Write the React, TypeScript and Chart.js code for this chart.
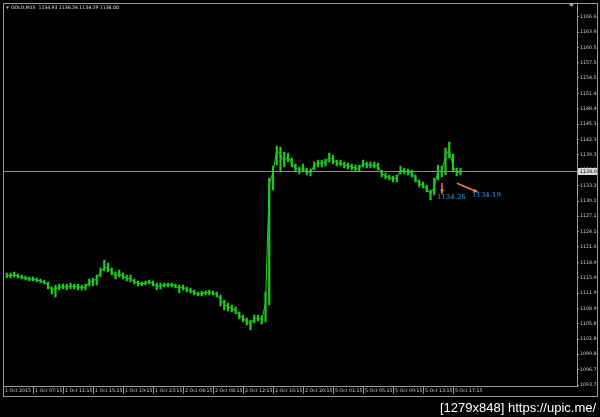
import { useEffect, useRef } from 'react';
import { Chart, registerables } from 'chart.js';
Chart.register(...registerables);

const xTickLabels = ['1 Oct 2015', '1 Oct 07:15', '1 Oct 11:15', '1 Oct 15:15', '1 Oct 19:15', '1 Oct 23:15', '2 Oct 04:15', '2 Oct 08:15', '2 Oct 12:15', '2 Oct 16:15', '2 Oct 20:15', '5 Oct 01:15', '5 Oct 05:15', '5 Oct 09:15', '5 Oct 13:15', '5 Oct 17:15'];
const pointsPerLabel = 8;
const yTickValues = [1166.65, 1163.6, 1160.55, 1157.5, 1154.55, 1151.4, 1148.4, 1145.35, 1142.3, 1139.3, 1136.25, 1133.2, 1130.15, 1127.15, 1124.1, 1121.05, 1118.0, 1115.0, 1111.9, 1108.9, 1105.85, 1102.8, 1099.8, 1096.75, 1093.7];

const highs = [
  1115.90, 1115.90, 1116.09, 1115.70, 1115.50, 1115.30, 1115.10, 1115.10, 1114.91, 1114.71,
  1114.51, 1114.11, 1113.12, 1113.52, 1113.72, 1113.72, 1113.72, 1113.92, 1113.72, 1113.72,
  1113.52, 1113.72, 1114.71, 1114.91, 1115.50, 1116.89, 1118.47, 1117.88, 1116.89, 1116.09,
  1116.49, 1115.90, 1115.50, 1115.50, 1114.71, 1114.31, 1114.11, 1114.31, 1114.51, 1114.31,
  1113.92, 1113.92, 1113.92, 1113.92, 1113.92, 1113.72, 1113.52, 1113.52, 1113.12, 1112.93,
  1112.53, 1112.13, 1112.33, 1112.33, 1112.53, 1112.33, 1112.13, 1111.54, 1110.55, 1109.96,
  1109.56, 1109.16, 1108.17, 1107.58, 1106.99, 1106.59, 1107.58, 1107.58, 1107.38, 1112.13,
  1134.71, 1137.08, 1141.04, 1140.84, 1139.85, 1139.66, 1138.67, 1137.48, 1136.88, 1137.48,
  1136.69, 1136.49, 1137.87, 1138.27, 1138.27, 1138.47, 1139.66, 1139.26, 1138.27, 1138.27,
  1137.87, 1137.68, 1137.48, 1137.28, 1137.28, 1138.27, 1137.87, 1137.87, 1137.87, 1137.68,
  1136.29, 1135.70, 1135.30, 1135.10, 1135.30, 1137.08, 1136.69, 1136.49, 1136.29, 1135.30,
  1134.31, 1133.91, 1133.32, 1132.33, 1134.71, 1137.28, 1137.08, 1140.65, 1141.83, 1139.46,
  1136.69, 1136.69,
];
const lows = [
  1114.91, 1114.91, 1115.10, 1114.91, 1114.71, 1114.51, 1114.31, 1114.31, 1114.11, 1113.92,
  1113.72, 1112.73, 1111.74, 1111.14, 1112.53, 1112.73, 1112.53, 1112.73, 1112.73, 1112.53,
  1112.53, 1112.53, 1113.32, 1113.32, 1113.52, 1115.10, 1116.29, 1116.09, 1115.50, 1114.71,
  1115.10, 1114.71, 1114.31, 1114.11, 1113.72, 1113.32, 1113.32, 1113.52, 1113.72, 1113.32,
  1112.53, 1112.73, 1113.12, 1113.12, 1113.12, 1112.93, 1111.94, 1112.53, 1112.13, 1111.94,
  1111.54, 1111.34, 1111.34, 1111.54, 1111.54, 1111.54, 1111.14, 1109.36, 1108.57, 1108.37,
  1108.17, 1107.78, 1106.79, 1106.19, 1105.60, 1104.61, 1106.00, 1106.39, 1105.80, 1106.19,
  1109.56, 1132.33, 1137.28, 1135.89, 1136.88, 1137.87, 1136.88, 1135.89, 1135.50, 1135.89,
  1135.30, 1135.10, 1136.29, 1136.88, 1136.88, 1137.08, 1137.87, 1137.48, 1137.08, 1137.08,
  1136.69, 1136.49, 1136.29, 1136.09, 1136.09, 1136.88, 1136.69, 1136.69, 1136.69, 1136.29,
  1134.90, 1134.51, 1134.31, 1133.91, 1133.91, 1135.50, 1135.50, 1135.30, 1134.90, 1133.91,
  1132.92, 1132.73, 1131.93, 1130.35, 1131.34, 1134.31, 1134.90, 1135.30, 1138.67, 1135.89,
  1135.10, 1135.30,
];
const closes = [
  1115.40, 1115.36, 1115.50, 1115.30, 1115.00, 1114.85, 1114.71, 1114.65, 1114.51, 1114.31,
  1114.11, 1113.52, 1112.53, 1112.83, 1113.06, 1113.18, 1113.12, 1113.26, 1113.26, 1113.12,
  1112.93, 1113.12, 1114.02, 1114.31, 1114.71, 1116.09, 1116.99, 1116.83, 1116.19, 1115.30,
  1115.70, 1115.20, 1114.91, 1114.71, 1114.21, 1113.86, 1113.72, 1113.92, 1114.11, 1113.86,
  1113.22, 1113.32, 1113.52, 1113.52, 1113.62, 1113.26, 1112.93, 1113.06, 1112.63, 1112.37,
  1112.07, 1111.68, 1111.84, 1111.98, 1112.04, 1111.88, 1111.64, 1110.55, 1109.66, 1109.26,
  1108.87, 1108.43, 1107.52, 1106.93, 1106.29, 1105.80, 1106.85, 1107.03, 1106.59, 1109.96,
  1133.52, 1135.89, 1140.25, 1139.26, 1138.07, 1138.86, 1137.78, 1136.69, 1136.19, 1136.69,
  1135.99, 1135.80, 1137.28, 1137.62, 1137.62, 1137.82, 1138.77, 1138.27, 1137.68, 1137.62,
  1137.32, 1137.08, 1136.88, 1136.63, 1136.63, 1137.58, 1137.28, 1137.28, 1137.18, 1137.08,
  1135.60, 1135.10, 1134.81, 1134.55, 1134.71, 1136.19, 1136.09, 1135.89, 1135.64, 1134.51,
  1133.58, 1133.22, 1132.53, 1131.54, 1132.92, 1136.29, 1135.80, 1139.26, 1140.25, 1137.08,
  1135.70, 1136.00,
];

const currentPrice = 1136.0;
const headerText = 'GOLD,M15  1134.93 1136.24 1134.29 1136.00';
const annotationLabels = ['1134.26', '1134.19'];
const arrowFrom = [[117.07, 1133.72], [121.07, 1133.66]];
const arrowTo = [[117.07, 1131.74], [126.4, 1131.99]];
const labelAt = [[115.7, 1130.81], [125.07, 1131.34]];
const watermark = '[1279x848] https://upic.me/';

const GREEN = '#1ecc1e';
const GRAY = '#9a9a9a';

const decor = {
  id: 'decor',
  beforeDraw(chart: any) {
    const { ctx, width, height } = chart;
    ctx.save();
    ctx.fillStyle = '#000';
    ctx.fillRect(0, 0, width, height);
    ctx.restore();
  },
  afterDraw(chart: any) {
    const { ctx, chartArea: a, scales } = chart;
    const x = scales.x;
    const y = scales.y;
    ctx.save();
    const py = Math.round(y.getPixelForValue(currentPrice)) + 0.5;
    ctx.strokeStyle = '#8c8c8c';
    ctx.lineWidth = 1;
    ctx.beginPath();
    ctx.moveTo(a.left, py);
    ctx.lineTo(a.right, py);
    ctx.stroke();
    ctx.fillStyle = '#d8d8d8';
    ctx.fillRect(a.right + 1, py - 3.5, 20, 7);
    ctx.fillStyle = '#000';
    ctx.font = '4.8px "DejaVu Sans"';
    ctx.textBaseline = 'middle';
    ctx.textAlign = 'left';
    ctx.fillText(currentPrice.toFixed(2), a.right + 3, py);

    ctx.strokeStyle = GRAY;
    ctx.strokeRect(3.5, 3.5, 594, 393);

    ctx.fillStyle = '#bbbbbb';
    ctx.beginPath();
    ctx.moveTo(6, 6.5);
    ctx.lineTo(9, 6.5);
    ctx.lineTo(7.5, 9);
    ctx.closePath();
    ctx.fill();
    ctx.fillStyle = '#e8e8e8';
    ctx.font = '4.6px "DejaVu Sans"';
    ctx.fillText(headerText, 11, 8);

    ctx.fillStyle = '#aaaaaa';
    ctx.beginPath();
    ctx.moveTo(569, 4);
    ctx.lineTo(574, 4);
    ctx.lineTo(571.5, 7);
    ctx.closePath();
    ctx.fill();

    ctx.strokeStyle = '#f07a4c';
    ctx.fillStyle = '#f07a4c';
    ctx.lineWidth = 1.5;
    for (let i = 0; i < arrowFrom.length; i++) {
      const x1 = x.getPixelForValue(arrowFrom[i][0]);
      const y1 = y.getPixelForValue(arrowFrom[i][1]);
      const x2 = x.getPixelForValue(arrowTo[i][0]);
      const y2 = y.getPixelForValue(arrowTo[i][1]);
      ctx.beginPath();
      ctx.moveTo(x1, y1);
      ctx.lineTo(x2, y2);
      ctx.stroke();
      const ang = Math.atan2(y2 - y1, x2 - x1);
      ctx.beginPath();
      ctx.moveTo(x2 + Math.cos(ang) * 1.5, y2 + Math.sin(ang) * 1.5);
      ctx.lineTo(x2 - Math.cos(ang - 0.5) * 4, y2 - Math.sin(ang - 0.5) * 4);
      ctx.lineTo(x2 - Math.cos(ang + 0.5) * 4, y2 - Math.sin(ang + 0.5) * 4);
      ctx.closePath();
      ctx.fill();
    }
    ctx.fillStyle = '#2a9ce0';
    ctx.font = '7px "DejaVu Serif"';
    ctx.textBaseline = 'middle';
    for (let i = 0; i < annotationLabels.length; i++) {
      ctx.fillText(annotationLabels[i], x.getPixelForValue(labelAt[i][0]), y.getPixelForValue(labelAt[i][1]));
    }

    ctx.fillStyle = '#ffffff';
    ctx.font = '13px "Liberation Sans"';
    ctx.textAlign = 'left';
    ctx.textBaseline = 'alphabetic';
    ctx.fillText(watermark, 440, 412, 157);
    ctx.restore();
  },
};

export default function App() {
  const ref = useRef<HTMLCanvasElement | null>(null);
  useEffect(() => {
    if (!ref.current) return;
    const barData = lows.map((l, i) => ({ x: i + 1, y: [l, highs[i]] }));
    const lineData = closes.map((c, i) => ({ x: i + 1, y: c }));
    const chart = new Chart(ref.current, {
      type: 'bar',
      data: {
        datasets: [
          {
            type: 'bar',
            data: barData as any,
            backgroundColor: GREEN,
            borderWidth: 0,
            barThickness: 1.5,
            grouped: false,
          } as any,
          {
            type: 'line',
            data: lineData as any,
            borderColor: GREEN,
            borderWidth: 1,
            pointRadius: 0,
            tension: 0,
          } as any,
        ],
      },
      options: {
        animation: false,
        responsive: false,
        maintainAspectRatio: false,
        events: [],
        layout: { padding: { left: 3, top: 3, right: 2, bottom: 20 } },
        plugins: { legend: { display: false }, tooltip: { enabled: false }, title: { display: false } },
        scales: {
          x: {
            type: 'linear',
            min: 0,
            max: 574 / 3.75,
            offset: false,
            grid: { display: true, drawOnChartArea: false, drawTicks: true, tickLength: 7, color: GRAY, offset: false },
            border: { display: true, color: GRAY },
            ticks: {
              autoSkip: false,
              maxRotation: 0,
              minRotation: 0,
              align: 'start',
              labelOffset: 2,
              padding: -6,
              color: '#d0d0d0',
              font: { size: 4.7, family: 'DejaVu Sans' },
              callback: (_v: any, idx: number) => xTickLabels[idx],
            },
            afterBuildTicks: (s: any) => {
              s.ticks = xTickLabels.map((_, k) => ({ value: k * pointsPerLabel }));
            },
            afterFit: (s: any) => {
              s.height = 10.3;
              s.paddingLeft = 0;
              s.paddingRight = 0;
            },
          } as any,
          y: {
            type: 'linear',
            position: 'right',
            min: 1093.38,
            max: 1169.36,
            grid: { display: true, drawOnChartArea: false, drawTicks: true, tickLength: 2, color: GRAY },
            border: { display: true, color: GRAY },
            ticks: {
              autoSkip: false,
              padding: 1,
              color: '#d0d0d0',
              font: { size: 4.7, family: 'DejaVu Sans' },
              callback: (v: any) => Number(v).toFixed(2),
            },
            afterBuildTicks: (s: any) => {
              s.ticks = yTickValues.map((v) => ({ value: v }));
            },
            afterFit: (s: any) => {
              s.width = 21;
              s.paddingTop = 0;
              s.paddingBottom = 0;
            },
          } as any,
        },
      },
      plugins: [decor],
    });
    return () => chart.destroy();
  }, []);
  return (
    <div style={{ position: 'fixed', left: 0, top: 0, width: 600, height: 417, background: '#000' }}>
      <canvas ref={ref} width={600} height={417} style={{ display: 'block', width: 600, height: 417 }} />
    </div>
  );
}
